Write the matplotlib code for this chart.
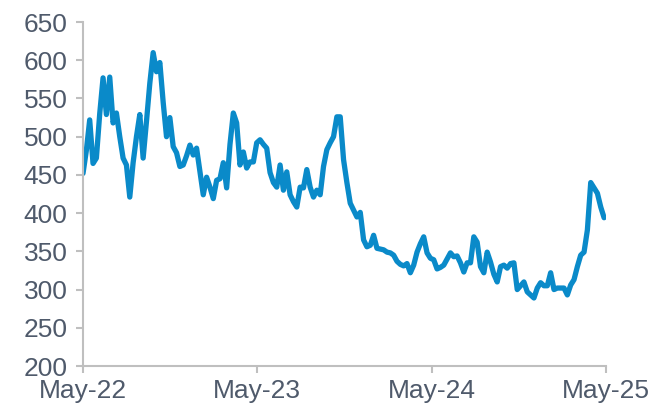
import pandas as pd
import matplotlib.pyplot as plt
import matplotlib.dates as mdates

# weekly series, May 2022 - May 2025
start = "2022-05-01"
valores = [
    452, 482, 522, 465, 472, 530, 577, 529, 578, 518,
    531, 500, 472, 463, 421, 466, 500, 529, 472, 520,
    570, 610, 585, 597, 545, 500, 525, 487, 479, 461,
    463, 475, 489, 476, 485, 455, 424, 447, 434, 419,
    443, 445, 466, 433, 490, 531, 518, 463, 480, 459,
    467, 467, 492, 496, 490, 485, 453, 440, 434, 463,
    430, 454, 424, 415, 408, 434, 433, 457, 434, 421,
    430, 424, 461, 483, 492, 500, 526, 526, 470, 440,
    413, 404, 395, 401, 365, 356, 358, 371, 354, 353,
    352, 349, 348, 345, 337, 333, 331, 334, 322, 332,
    349, 360, 369, 348, 341, 339, 327, 329, 332, 340,
    348, 343, 344, 335, 323, 335, 335, 369, 362, 330,
    322, 349, 336, 320, 310, 330, 332, 328, 334, 335,
    300, 305, 310, 297, 293, 289, 302, 309, 305, 305,
    322, 300, 302, 302, 302, 293, 306, 313, 330, 345,
    349, 378, 440, 433, 426, 408, 394,
]
datas = pd.date_range(start, periods=len(valores), freq="W")

ticks_x = pd.to_datetime(["2022-05-01", "2023-05-01", "2024-05-01", "2025-05-01"])
ticks_y = [200, 250, 300, 350, 400, 450, 500, 550, 600, 650]

plt.rcParams["font.family"] = ["Liberation Sans", "DejaVu Sans"]
cor_texto = "#4F5A6B"
cor_eixo = "#BFBFBF"

fig = plt.figure(figsize=(6.62, 4.09), dpi=100)
ax = fig.add_axes([0.1254, 0.1051, 0.79, 0.841])

ax.plot(datas, valores, color="#0A8AC9", linewidth=3.8,
        solid_joinstyle="round", solid_capstyle="round")

ax.set_xlim(ticks_x[0], ticks_x[-1])
ax.set_ylim(200, 650)
ax.set_xticks(ticks_x)
ax.xaxis.set_major_formatter(mdates.DateFormatter("%b-%y"))
ax.set_yticks(ticks_y)

for lado in ["top", "right"]:
    ax.spines[lado].set_visible(False)
for lado in ["left", "bottom"]:
    ax.spines[lado].set_color(cor_eixo)
    ax.spines[lado].set_linewidth(1.5)

ax.tick_params(axis="both", colors=cor_eixo, labelcolor=cor_texto,
               labelsize=19, length=5, width=1.5)
ax.tick_params(axis="y", pad=6)
ax.tick_params(axis="x", pad=4)

fig.savefig("out.png", dpi=100)
